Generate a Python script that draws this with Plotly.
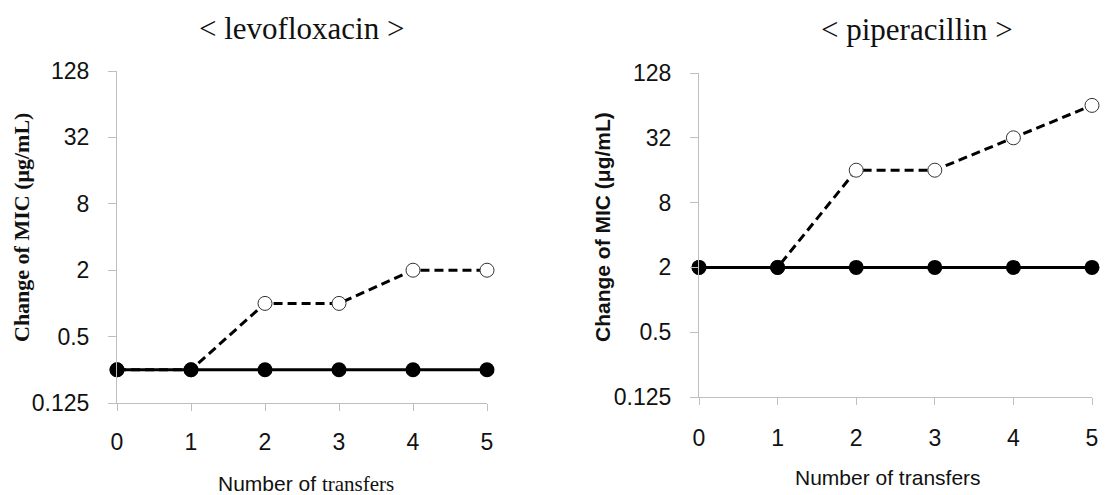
import plotly.graph_objects as go
import math

transfers = [0, 1, 2, 3, 4, 5]
levo_control = [0.25, 0.25, 0.25, 0.25, 0.25, 0.25]
levo_exposed = [0.25, 0.25, 1, 1, 2, 2]
pip_control = [2, 2, 2, 2, 2, 2]
pip_exposed = [2, 2, 16, 16, 32, 64]
y_ticks = [0.125, 0.5, 2, 8, 32, 128]
y_tick_text = ["0.125", "0.5", "2", "8", "32", "128"]
x_ticks = [0, 1, 2, 3, 4, 5]

W, H = 1105, 495
fig = go.Figure()

def add_pair(xref, yref, control, exposed):
    fig.add_trace(go.Scatter(x=transfers, y=exposed, xaxis=xref, yaxis=yref, mode="lines+markers",
                             line=dict(color="black", width=3, dash="9px,5px"),
                             marker=dict(symbol="circle", size=14, color="white",
                                         line=dict(color="#333333", width=1)),
                             cliponaxis=False, showlegend=False))
    fig.add_trace(go.Scatter(x=transfers, y=control, xaxis=xref, yaxis=yref, mode="lines+markers",
                             line=dict(color="black", width=3),
                             marker=dict(symbol="circle", size=15, color="black"),
                             cliponaxis=False, showlegend=False))

add_pair("x", "y", levo_control, levo_exposed)
add_pair("x2", "y2", pip_control, pip_exposed)

tickfont = dict(family="Liberation Sans, Arial", size=23, color="#111111")
yr = [math.log10(0.125), math.log10(128)]

def xaxis(dom, anchor, standoff):
    return dict(domain=dom, anchor=anchor, range=[0, 5], tickvals=x_ticks, showgrid=False,
                zeroline=False, showline=True, linecolor="#bfbfbf", linewidth=1,
                ticks="outside", ticklen=7, tickcolor="#bfbfbf", tickfont=tickfont,
                ticklabelstandoff=standoff, automargin=False)

def yaxis(dom, anchor):
    return dict(domain=dom, anchor=anchor, type="log", range=yr, tickvals=y_ticks,
                ticktext=y_tick_text, showgrid=False, zeroline=False, showline=True,
                linecolor="#bfbfbf", linewidth=1, ticks="outside", ticklen=8,
                tickcolor="#bfbfbf", tickfont=tickfont, ticklabelstandoff=14,
                automargin=False)

fig.update_layout(
    width=W, height=H, margin=dict(l=0, r=0, t=0, b=0, pad=0, autoexpand=False),
    plot_bgcolor="white", paper_bgcolor="white",
    xaxis=xaxis([117 / W, 487 / W], "y", 11),
    yaxis=yaxis([(H - 403) / H, (H - 71) / H], "x"),
    xaxis2=xaxis([699 / W, 1092 / W], "y2", 13),
    yaxis2=yaxis([(H - 397) / H, (H - 73) / H], "x2"),
)

anns = [
    dict(text="&lt; levofloxacin &gt;", x=301 / W, y=1 - 28 / H,
         font=dict(family="Liberation Serif, Times New Roman", size=31, color="#111111")),
    dict(text="&lt; piperacillin &gt;", x=917 / W, y=1 - 29 / H,
         font=dict(family="Liberation Serif, Times New Roman", size=31, color="#111111")),
    dict(text="Number of <span style='font-family:Liberation Serif'>transfers</span>",
         x=306 / W, y=1 - 484 / H,
         font=dict(family="Liberation Sans, Arial", size=21, color="#111111")),
    dict(text="Number of transfers", x=888 / W, y=1 - 477 / H,
         font=dict(family="Liberation Sans, Arial", size=21, color="#111111")),
    dict(text="<b>Change of MIC (μg/mL)</b>", x=21 / W, y=1 - 228 / H, textangle=-90,
         font=dict(family="Liberation Serif, Times New Roman", size=22, color="#111111")),
    dict(text="<b>Change of MIC (μg/mL)</b>", x=602 / W, y=1 - 227 / H, textangle=-90,
         font=dict(family="Liberation Sans, Arial", size=21, color="#111111")),
]
for a in anns:
    a.update(xref="paper", yref="paper", showarrow=False, xanchor="center", yanchor="middle")
    fig.add_annotation(**a)

fig.write_html("out.html")
